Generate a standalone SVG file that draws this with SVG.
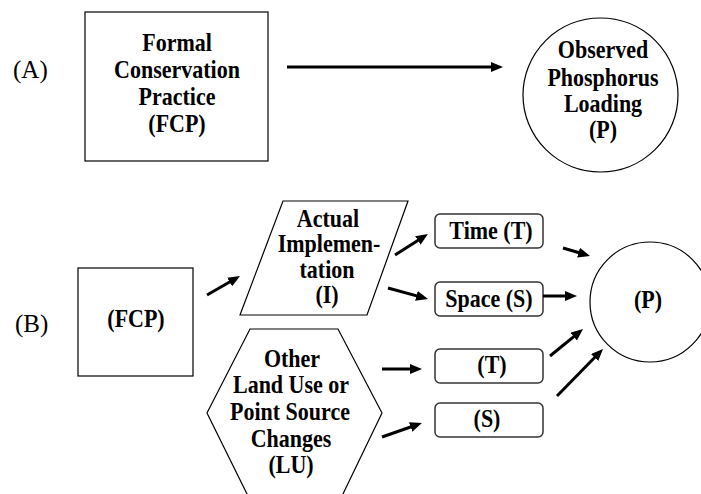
<svg xmlns="http://www.w3.org/2000/svg" width="701" height="494" viewBox="0 0 701 494">
<defs>
<marker id="ah" markerUnits="userSpaceOnUse" markerWidth="12" markerHeight="10" refX="6" refY="5" orient="auto">
<path d="M0,0 L12,5 L0,10 z" fill="#000"/>
</marker>
<style>
.sh{fill:#fff;stroke:#000;stroke-width:1.2}
.rb{fill:#fff;stroke:#333;stroke-width:1.5}
.ar{stroke:#000;stroke-width:3;fill:none;marker-end:url(#ah)}
</style>
</defs>
<rect width="701" height="494" fill="#fff"/>
<g font-family="Liberation Serif, Times New Roman, serif" font-size="25" fill="#000">
<text x="13" y="78">(A)</text>
<text x="15" y="332">(B)</text>
</g>
<g font-family="Liberation Serif, Times New Roman, serif" font-size="22" font-weight="bold" fill="#000" text-anchor="middle">
<g id="fcpA">
<rect class="sh" x="85" y="12" width="183" height="149"/>
<text transform="translate(177 51) scale(1 1.14)">Formal</text>
<text transform="translate(177 78) scale(1 1.14)">Conservation</text>
<text transform="translate(177 105) scale(1 1.14)">Practice</text>
<text transform="translate(177 132) scale(1 1.14)">(FCP)</text>
</g>
<g id="pA">
<ellipse class="sh" cx="600.5" cy="95" rx="77.5" ry="77"/>
<text transform="translate(603 58) scale(1 1.14)">Observed</text>
<text transform="translate(603 86) scale(1 1.14)">Phosphorus</text>
<text transform="translate(603 112) scale(1 1.14)">Loading</text>
<text transform="translate(603 138) scale(1 1.14)">(P)</text>
</g>
<g id="fcpB">
<rect class="sh" x="78" y="268" width="115" height="108"/>
<text transform="translate(136 327) scale(1 1.14)">(FCP)</text>
</g>
<g id="impl">
<polygon class="sh" points="283,201 408,201 367,315 240,315"/>
<text transform="translate(328 227) scale(1 1.14)">Actual</text>
<text transform="translate(329 252) scale(1 1.14)">Implemen-</text>
<text transform="translate(327 278) scale(1 1.14)">tation</text>
<text transform="translate(327 303) scale(1 1.14)">(I)</text>
</g>
<g id="lu">
<polygon class="sh" points="250,329 338,329 382,413 342,496 248,496 207,413"/>
<text transform="translate(292 367) scale(1 1.14)">Other</text>
<text transform="translate(291 393) scale(1 1.14)">Land Use or</text>
<text transform="translate(290 420) scale(1 1.14)">Point Source</text>
<text transform="translate(291 447) scale(1 1.14)">Changes</text>
<text transform="translate(291 473) scale(1 1.14)">(LU)</text>
</g>
<g id="timeI">
<rect class="rb" x="435" y="214" width="108" height="34" rx="5"/>
<text transform="translate(491 239) scale(1 1.14)">Time (T)</text>
</g>
<g id="spaceI">
<rect class="rb" x="435" y="282" width="108" height="34" rx="5"/>
<text transform="translate(489 307) scale(1 1.14)">Space (S)</text>
</g>
<g id="timeLU">
<rect class="rb" x="435" y="349" width="108" height="34" rx="5"/>
<text transform="translate(492 373) scale(1 1.14)">(T)</text>
</g>
<g id="spaceLU">
<rect class="rb" x="435" y="403" width="108" height="34" rx="5"/>
<text transform="translate(487 427) scale(1 1.14)">(S)</text>
</g>
<g id="pB">
<circle class="sh" cx="650" cy="302" r="60"/>
<text transform="translate(648 308) scale(1 1.14)">(P)</text>
</g>
</g>
<g id="connectors">
<line class="ar" x1="287" y1="67" x2="497" y2="67"/>
<line class="ar" x1="207" y1="295" x2="234.8" y2="279"/>
<line class="ar" x1="395" y1="255" x2="422.9" y2="237.2"/>
<line class="ar" x1="388" y1="288" x2="422.2" y2="297.4"/>
<line class="ar" x1="563" y1="248" x2="584.3" y2="254.3"/>
<line class="ar" x1="543" y1="296" x2="571" y2="296"/>
<line class="ar" x1="550" y1="356" x2="578.4" y2="332.8"/>
<line class="ar" x1="557" y1="396" x2="598.8" y2="353.3"/>
<line class="ar" x1="382" y1="369" x2="416" y2="369"/>
<line class="ar" x1="382" y1="437" x2="416.3" y2="425"/>
</g>
</svg>
